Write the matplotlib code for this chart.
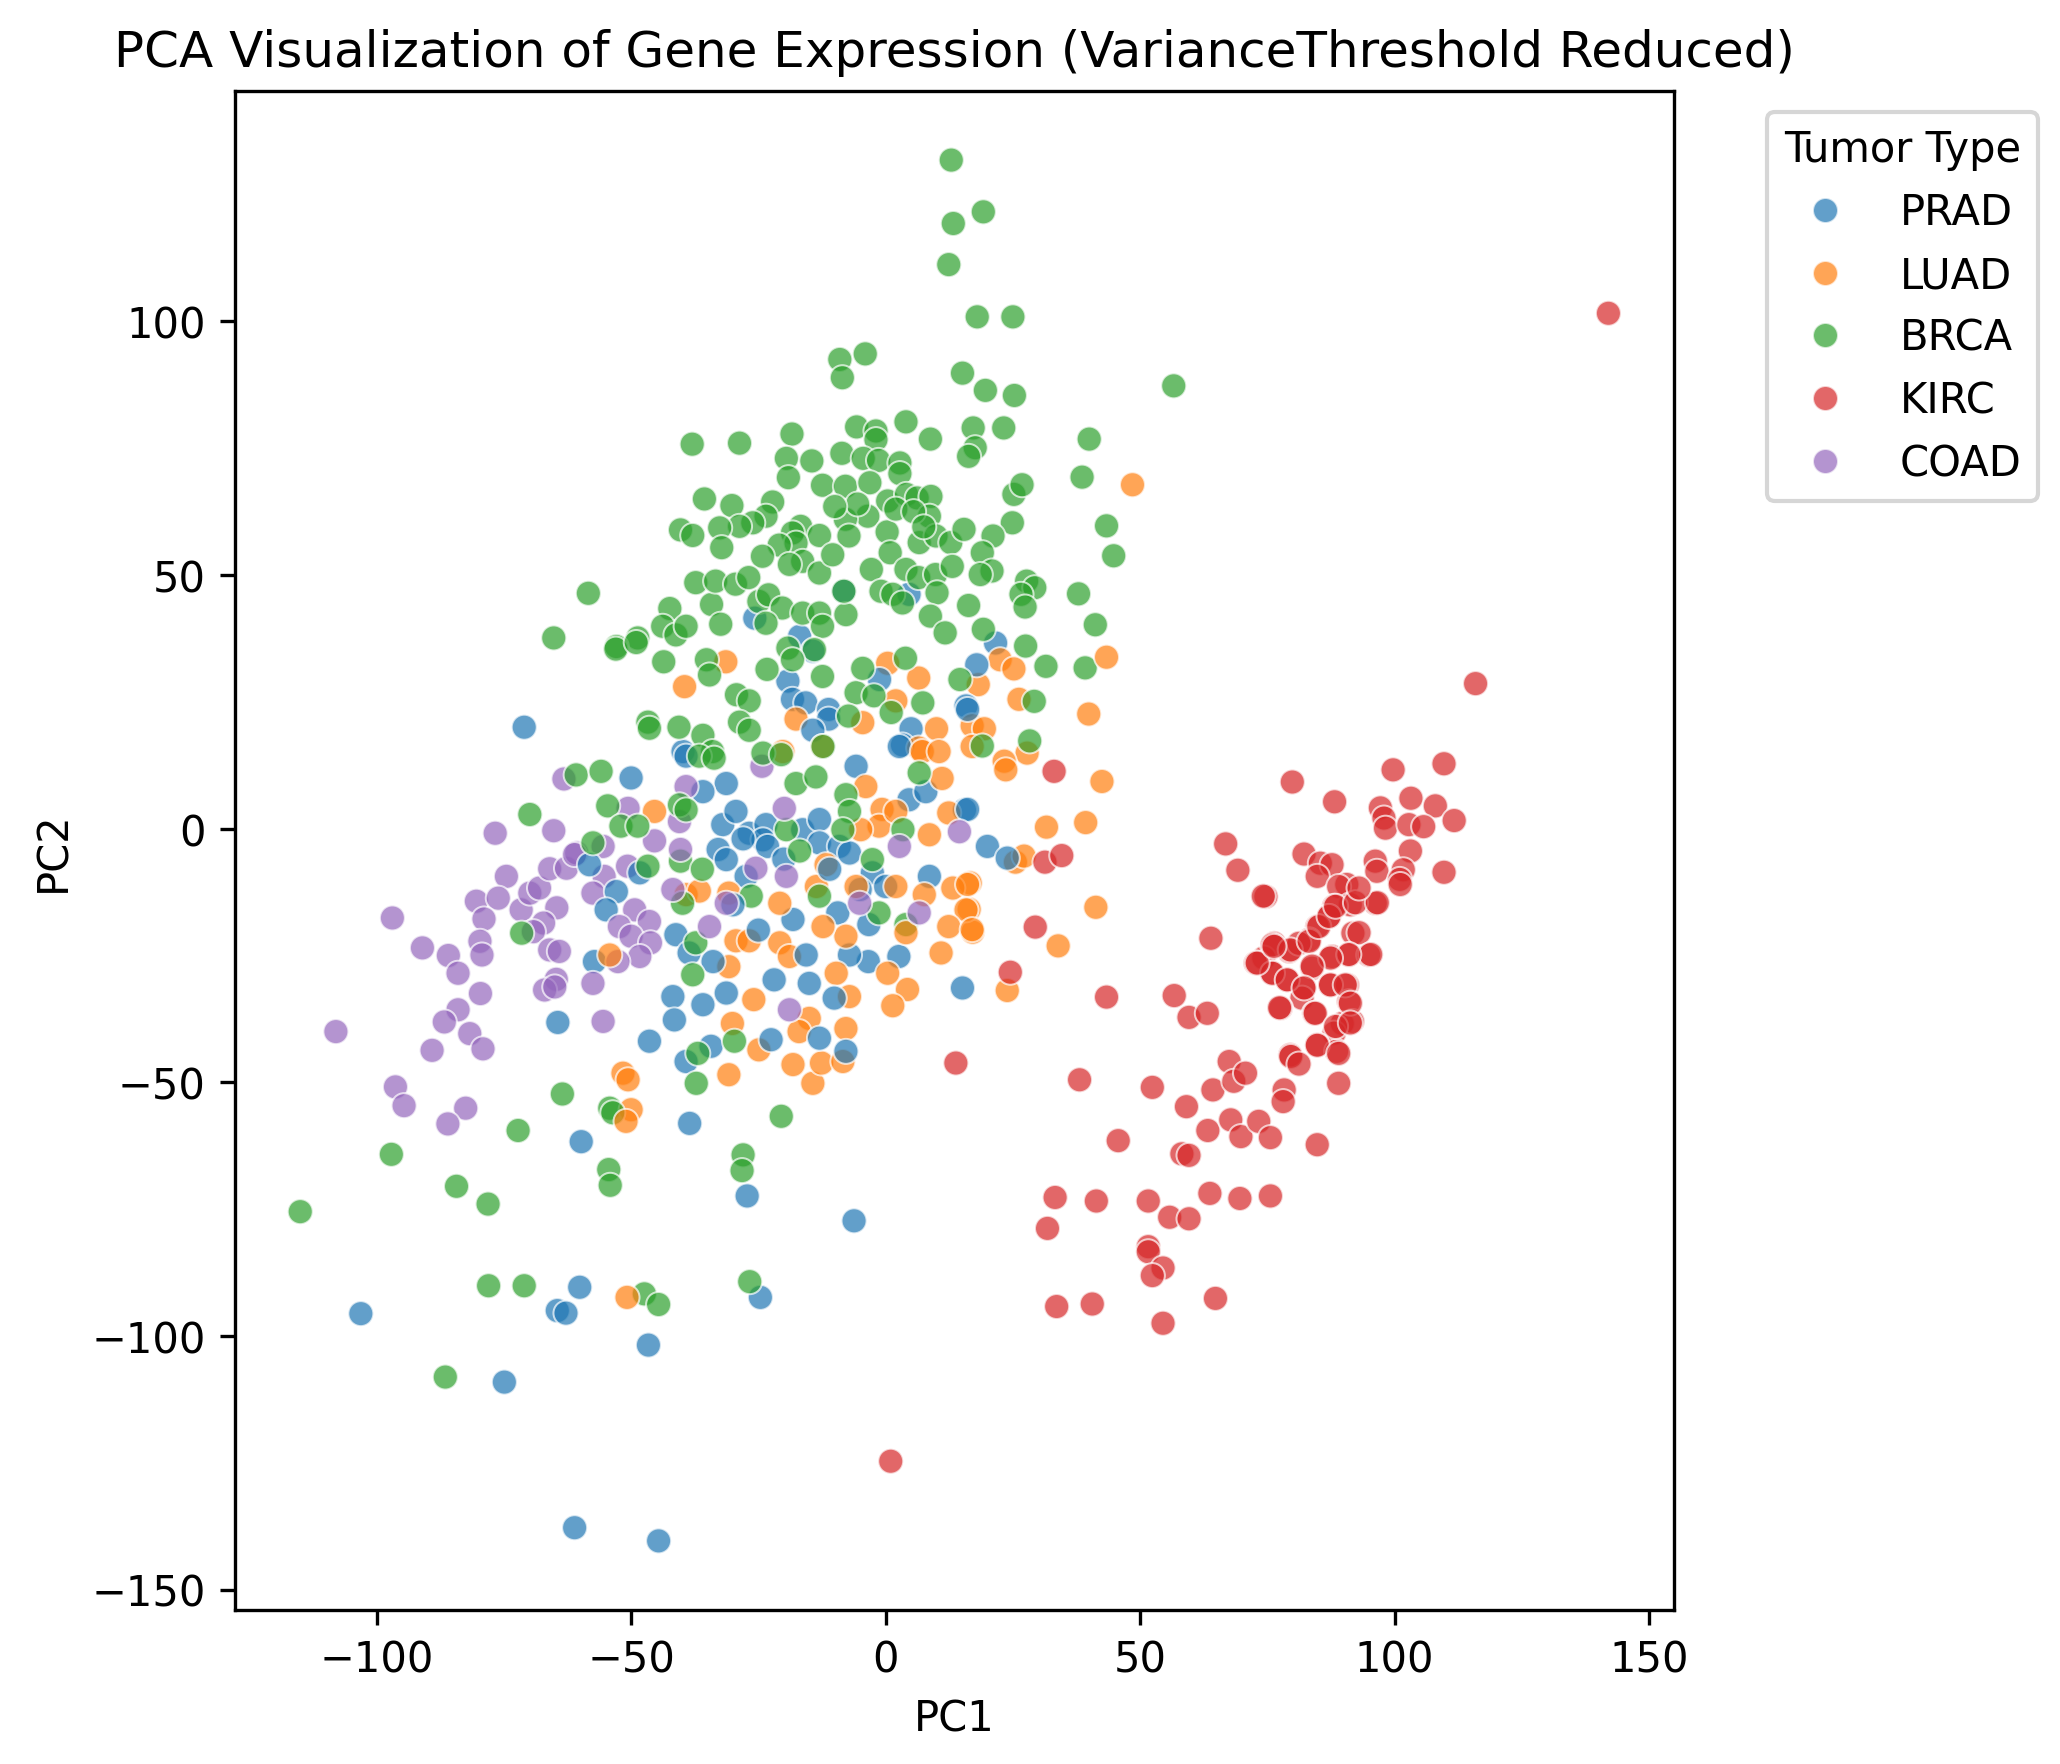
import numpy as np
import pandas as pd
import seaborn as sns
from matplotlib import pyplot as plt

# Coordinate PCA (PC1, PC2) per tipo di tumore
brca_pts = [
    (12.9, 131.8), (19.2, 121.6), (13.3, 119.3), (12.4, 111.2), (18.0, 100.9), (25.0, 100.9),
    (-9.0, 92.5), (-4.0, 93.6), (-8.5, 88.9), (15.1, 89.8), (19.6, 86.4), (25.3, 85.4), (56.6, 87.3),
    (40.0, 76.8), (38.6, 69.3), (43.4, 59.7), (44.8, 53.8), (37.9, 46.3), (41.2, 40.2), (39.2, 31.7),
    (31.5, 32.0), (27.5, 36.0), (-38.0, 75.8), (-28.7, 76.0), (-18.4, 77.8), (-19.5, 73.0),
    (-19.1, 69.2), (-14.5, 72.5), (-12.4, 67.7), (-5.7, 79.2), (-1.9, 78.4), (-1.9, 76.7), (4.0, 80.2),
    (8.8, 76.8), (-8.6, 74.0), (-4.4, 73.0), (-1.4, 72.6), (2.8, 72.1), (2.8, 70.0), (-7.9, 67.5),
    (-3.1, 68.2), (0.4, 64.6), (4.1, 65.9), (6.2, 65.2), (8.9, 65.5), (-3.5, 61.6), (-7.9, 61.0),
    (-7.2, 57.7), (0.3, 58.5), (6.6, 56.4), (8.6, 61.6), (9.9, 57.7), (12.8, 56.4), (15.4, 59.0),
    (17.2, 79.0), (17.6, 75.1), (16.3, 73.4), (23.2, 79.0), (25.2, 65.9), (24.9, 60.3), (21.1, 57.7),
    (19.0, 54.4), (20.9, 50.8), (18.6, 50.1), (26.8, 67.8), (27.7, 48.8), (29.3, 47.5), (26.6, 46.2),
    (27.4, 43.7), (28.3, 17.3), (29.2, 25.1), (19.0, 16.3), (-35.6, 65.0), (-30.2, 63.7),
    (-22.2, 64.4), (-23.5, 61.6), (-26.1, 60.3), (-28.7, 59.6), (-32.6, 59.3), (-40.3, 58.9),
    (-37.9, 57.8), (-32.2, 55.4), (-16.7, 59.6), (-18.3, 58.3), (-13.0, 57.8), (-17.6, 56.3),
    (-20.9, 55.9), (-24.2, 53.7), (-16.3, 52.7), (-18.9, 52.1), (-13.0, 50.4), (-10.4, 54.0),
    (0.9, 54.4), (-2.8, 51.1), (4.0, 51.1), (6.5, 49.5), (9.8, 50.1), (13.1, 51.7), (-0.9, 46.8),
    (1.4, 46.2), (3.3, 44.5), (10.1, 46.5), (8.8, 41.9), (11.7, 38.6), (16.3, 44.0), (19.2, 39.3),
    (2.0, 63.0), (5.5, 62.5), (7.5, 59.5), (-5.5, 64.0), (-10.0, 63.5),
    (-37.3, 48.5), (-34.2, 44.2), (-32.4, 40.3), (-33.4, 48.8), (-29.5, 48.2), (-26.9, 49.5),
    (-24.9, 44.8), (-23.0, 46.1), (-20.3, 43.5), (-16.3, 42.5), (-13.0, 42.5), (-12.4, 39.9),
    (-7.8, 42.2), (-8.2, 46.8), (-23.5, 40.5), (-42.4, 43.4), (-43.8, 39.9), (-41.2, 38.2),
    (-39.2, 39.9), (-48.7, 37.6), (-52.9, 35.9), (-43.6, 32.9), (-35.2, 33.3), (-34.6, 30.3),
    (-14.0, 35.3), (-19.2, 35.6), (-18.3, 33.3), (-23.3, 31.4), (-12.4, 30.0), (-5.8, 26.8),
    (-4.5, 31.6), (3.9, 33.6), (14.6, 29.4), (7.3, 24.8), (-2.3, 26.2), (-29.3, 26.4), (-26.8, 25.2),
    (-7.3, 22.2), (1.1, 22.9), (-46.7, 21.0), (-40.6, 20.0), (-35.9, 18.4), (-28.7, 21.0),
    (-26.8, 19.4), (-34.0, 15.2), (-58.4, 46.4), (-65.2, 37.6), (-53.0, 35.4), (-49.0, 36.7),
    (-60.8, 10.6), (-55.9, 11.3), (-54.6, 4.5), (-69.9, 2.8), (-46.4, 19.8),
    (-52.0, 0.5), (-48.7, 0.5), (-57.5, -2.8), (-46.7, -7.4), (-40.5, 4.7), (-39.2, 3.7),
    (-36.6, 14.3), (-33.7, 13.9), (-40.3, -6.4), (-36.0, -8.0), (-26.4, -13.3), (-39.9, -14.7),
    (-37.3, -22.5), (-37.9, -28.8), (-36.9, -44.3), (-37.2, -50.2), (-29.7, -41.9), (-20.5, -56.7),
    (-54.2, -55.1), (-63.5, -52.3), (-24.1, 14.9), (-20.5, 14.6), (-17.6, 8.9), (-13.7, 10.2),
    (-19.5, -0.2), (-16.9, -4.4), (-7.8, 6.7), (-7.1, 3.4), (-8.4, -0.2), (-13.0, -13.3),
    (-2.6, -6.1), (-1.3, -16.6), (3.4, -0.2), (6.6, 11.0), (4.0, -18.9), (-12.3, 16.2),
    (-71.5, -20.6), (-72.2, -59.5), (-97.1, -64.2), (-84.3, -70.5), (-78.1, -74.0), (-115.0, -75.5),
    (-86.5, -108.1), (-78.0, -90.1), (-71.0, -90.1), (-53.6, -56.0), (-54.4, -67.2), (-54.1, -70.3),
    (-47.4, -91.7), (-44.6, -93.8), (-26.7, -89.3), (-28.0, -64.3), (-28.2, -67.4),
]

prad_pts = [
    (21.6, 36.6), (-8.2, 46.8), (4.6, 46.2), (-25.7, 41.5), (-16.9, 37.9), (-14.3, 35.0),
    (-19.2, 29.1), (-1.2, 29.4), (17.9, 32.3), (15.8, 24.2), (-18.3, 25.5), (-15.7, 24.8),
    (-11.2, 23.5), (-11.2, 21.6), (5.0, 19.7), (-14.3, 19.4), (-39.8, 15.2), (3.3, 16.5),
    (-50.0, 10.0), (-39.2, 14.3), (-31.3, 8.9), (-35.9, 7.3), (-32.0, 0.8), (-29.4, 3.4),
    (-26.8, -0.9), (-23.5, 0.8), (-24.1, -2.2), (-32.9, -4.1), (-31.3, -6.1), (-27.4, -9.4),
    (-23.2, -3.5), (-16.3, -0.2), (-13.0, 1.8), (-13.0, -2.8), (-9.1, -3.5), (-7.1, -4.8),
    (-5.8, 12.3), (-2.6, -8.7), (0.0, -11.4), (4.6, 5.7), (7.9, 7.3), (15.5, 3.7), (8.6, -9.4),
    (2.7, 16.2), (-9.4, -16.6), (-18.2, -17.9), (-3.3, -18.9), (2.6, -25.2), (-3.4, -26.2),
    (-7.1, -24.9), (-15.6, -24.9), (-21.9, -29.8), (-31.3, -32.4), (-41.8, -33.1), (-35.9, -34.7),
    (-41.5, -37.7), (-46.4, -41.9), (-39.2, -45.9), (-34.3, -42.9), (-22.5, -41.6), (-13.0, -41.3),
    (-7.8, -43.9), (-10.1, -33.4), (-15.0, -30.5), (15.1, -31.4), (-38.5, -58.1), (-59.8, -61.7),
    (-52.9, -12.4), (-54.9, -16.0), (-57.2, -26.2), (-58.2, -7.1), (-48.3, -8.7), (-41.2, -20.9),
    (-38.6, -24.5), (-33.9, -26.2), (-64.4, -38.2), (16.1, 23.5), (16.1, 3.8), (20.0, -3.5),
    (23.9, -5.8), (-71.0, 20.0), (-28.0, -2.0), (-20.0, -6.0), (-11.0, -8.0), (-30.0, -15.0),
    (-25.0, -20.0), (-5.0, -12.0), (-103.1, -95.6), (-74.9, -109.1), (-60.1, -90.4),
    (-64.5, -95.0), (-62.8, -95.5), (-61.1, -137.8), (-44.6, -140.4), (-46.6, -101.8),
    (-24.6, -92.4), (-27.2, -72.4), (-6.2, -77.3),
]

luad_pts = [
    (-31.4, 32.9), (-39.5, 28.0), (0.4, 32.6), (6.5, 29.7), (18.2, 28.4), (22.5, 33.3), (25.2, 31.5),
    (26.2, 25.5), (2.0, 25.2), (-4.5, 20.9), (10.0, 19.7), (17.0, 20.3), (19.4, 19.7), (-17.6, 21.6),
    (-20.2, 15.2), (-12.4, 16.2), (6.5, 15.9), (17.0, 16.2), (48.5, 67.8), (43.4, 33.8), (39.9, 22.6),
    (27.8, 14.9), (23.3, 13.3), (23.6, 11.6), (42.5, 9.3), (25.5, -6.6), (27.2, -5.4), (31.6, 0.3),
    (39.3, 1.2), (16.6, -10.7), (16.4, -15.9), (17.1, -20.4), (41.3, -15.5), (33.9, -23.1),
    (23.9, -31.9), (-45.4, 3.4), (-39.2, -13.0), (-36.6, -12.3), (-30.8, -12.7), (-29.4, -22.1),
    (-26.8, -22.1), (-30.8, -27.2), (-20.8, -22.5), (-18.9, -25.2), (-20.8, -14.7), (-25.9, -33.7),
    (-30.1, -38.4), (-24.9, -43.6), (-30.8, -48.5), (-18.2, -46.5), (-14.3, -50.2), (-12.6, -46.2),
    (-8.4, -45.9), (-15.0, -37.4), (-17.0, -40.0), (-7.8, -39.4), (-9.7, -28.5), (-7.1, -33.1),
    (-11.7, -7.1), (-13.6, -11.4), (-7.8, -21.2), (-12.3, -19.3), (-3.9, 8.3), (-0.7, 3.8),
    (-1.3, 0.5), (-4.9, -0.2), (2.0, 3.4), (7.2, 15.2), (11.1, 9.9), (10.5, 15.2), (12.4, 3.1),
    (8.6, -1.2), (13.2, -11.7), (16.1, -11.0), (15.8, -16.0), (12.4, -19.3), (17.0, -19.9),
    (10.9, -24.5), (4.3, -31.7), (1.4, -34.9), (0.4, -28.5), (2.0, -11.4), (-5.8, -11.4),
    (7.6, -13.0), (4.0, -20.5), (-51.6, -48.2), (-50.6, -49.5), (-50.0, -55.4), (-51.0, -57.7),
    (-54.2, -24.9), (-50.8, -92.4),
]

kirc_pts = [
    (115.9, 28.6), (109.7, 12.8), (99.7, 11.6), (79.9, 9.2), (88.2, 5.3), (103.2, 6.0), (108.0, 4.5),
    (111.7, 1.6), (97.2, 4.1), (97.9, 2.1), (98.2, 0.1), (102.8, 0.8), (105.7, 0.4), (103.1, -4.4),
    (109.7, -8.6), (82.2, -5.0), (85.4, -6.8), (87.7, -7.1), (84.8, -9.4), (96.2, -6.4), (96.5, -8.4),
    (101.7, -8.1), (101.0, -10.0), (74.7, -13.4), (90.6, -11.0), (89.0, -11.4), (96.2, -14.7),
    (91.3, -15.0), (88.1, -15.3), (87.1, -17.3), (84.8, -19.3), (91.8, -20.6), (83.2, -21.9),
    (76.3, -22.6), (79.3, -24.2), (74.3, -25.5), (81.2, -22.6), (87.7, -25.2), (91.0, -24.9),
    (94.9, -24.9), (83.8, -27.5), (75.9, -28.5), (78.9, -29.8), (82.2, -31.4), (87.4, -30.8),
    (90.7, -30.8), (81.8, -33.4), (91.0, -34.1), (77.6, -35.4), (84.2, -36.4), (89.7, -38.4),
    (91.7, -38.0), (88.1, -40.3), (84.8, -42.6), (79.5, -44.6), (88.6, -43.9),
    (74.2, -13.3), (63.9, -21.6), (43.4, -33.2), (56.7, -32.9), (59.6, -37.2), (63.2, -36.4),
    (38.1, -49.5), (52.4, -51.0), (59.1, -54.8), (64.3, -51.5), (67.5, -45.9), (68.4, -49.8),
    (70.7, -48.2), (63.3, -59.5), (67.8, -57.4), (69.8, -60.7), (73.3, -57.7), (75.6, -60.9),
    (78.3, -51.5), (78.1, -53.8), (79.6, -44.9), (81.2, -46.4), (84.8, -42.7), (89.0, -44.3),
    (89.0, -50.2), (84.8, -62.3), (45.7, -61.5), (58.2, -64.1), (59.6, -64.4), (33.3, -72.7),
    (41.4, -73.4), (51.6, -73.4), (55.8, -76.6), (59.6, -76.9), (63.7, -71.9), (69.6, -72.9),
    (75.6, -72.4), (31.8, -78.8), (51.6, -82.4), (51.6, -83.4), (54.5, -86.6), (52.4, -88.1),
    (33.6, -94.2), (40.6, -93.7), (64.8, -92.6), (54.5, -97.5), (76.0, -22.9), (79.5, -23.9),
    (72.7, -26.5), (76.0, -28.5), (78.9, -29.8), (83.2, -22.2), (85.1, -19.3), (87.1, -17.3),
    (88.4, -15.3), (92.3, -14.6), (96.6, -14.6), (93.0, -11.7), (101.1, -11.0), (93.0, -20.5),
    (95.3, -24.8), (91.0, -24.8), (87.4, -25.5), (83.8, -27.1), (82.2, -31.4), (87.4, -30.8),
    (90.3, -30.8), (91.3, -34.4), (84.4, -36.4), (77.4, -35.3), (88.4, -39.0), (91.3, -38.3),
    (33.1, 11.3), (31.3, -6.6), (34.6, -5.3), (29.4, -19.4), (24.5, -28.3), (66.8, -3.0),
    (69.2, -8.2), (73.0, -26.5), (76.3, -23.2), (142.0, 101.6), (1.0, -124.7), (13.8, -46.2),
]

coad_pts = [
    (-76.7, -0.9), (-65.2, -0.4), (-74.5, -9.4), (-80.4, -14.3), (-76.1, -13.7), (-78.9, -17.8),
    (-71.6, -16.0), (-69.9, -12.7), (-68.0, -11.7), (-66.0, -7.9), (-62.7, -7.8), (-60.7, -4.8),
    (-64.6, -15.6), (-67.2, -18.6), (-69.2, -20.3), (-66.0, -23.9), (-64.1, -24.2), (-64.7, -29.7),
    (-67.0, -31.8), (-65.0, -31.2), (-96.9, -17.6), (-91.0, -23.5), (-85.9, -25.0), (-84.0, -28.5),
    (-79.7, -22.2), (-79.3, -24.9), (-79.6, -32.5), (-84.0, -35.7), (-86.7, -38.1), (-81.7, -40.4),
    (-79.1, -43.4), (-89.1, -43.7), (-108.0, -40.0), (-96.3, -50.9), (-94.6, -54.6), (-82.5, -55.1),
    (-86.0, -58.2), (-63.2, 9.8), (-24.3, 12.3), (-39.2, 8.3), (-50.6, 4.0), (-40.5, 1.4),
    (-45.4, -2.4), (-55.5, -3.5), (-61.1, -5.1), (-55.3, -9.4), (-50.7, -7.4), (-57.5, -12.7),
    (-49.3, -16.0), (-46.4, -18.3), (-52.3, -19.3), (-50.0, -21.2), (-46.2, -22.5), (-48.3, -25.2),
    (-52.6, -26.2), (-57.5, -30.5), (-55.5, -38.0), (-40.3, -4.1), (-41.8, -12.0), (-34.6, -19.3),
    (-31.3, -14.7), (-25.5, -7.8), (-19.9, 4.0), (-19.5, -9.4), (-5.1, -14.7), (2.7, -3.5),
    (14.5, -0.6), (6.6, -16.6), (-18.9, -35.7),
]

tumor_order = ["PRAD", "LUAD", "BRCA", "KIRC", "COAD"]
groups = {"PRAD": prad_pts, "LUAD": luad_pts, "BRCA": brca_pts, "KIRC": kirc_pts, "COAD": coad_pts}


def main() -> None:

    # Tabella unica, classi mescolate in modo regolare (come nel dataset originale)
    frames = []
    for name in tumor_order:
        arr = np.array(groups[name])
        f = pd.DataFrame({"PC1": arr[:, 0], "PC2": arr[:, 1], "Tumor Type": name})
        f["rank"] = np.arange(len(f)) / len(f)
        frames.append(f)
    df = pd.concat(frames).sort_values("rank", kind="stable")

    fig = plt.figure(figsize=(6.867, 5.883), dpi=300)
    ax = fig.add_axes([0.114, 0.0873, 0.6985, 0.8606])

    sns.scatterplot(data=df, x="PC1", y="PC2", hue="Tumor Type", hue_order=tumor_order,
                    palette="tab10", alpha=0.7, ax=ax)

    ax.set_title("PCA Visualization of Gene Expression (VarianceThreshold Reduced)")
    ax.set_xlabel("PC1")
    ax.set_ylabel("PC2")
    ax.legend(title="Tumor Type", bbox_to_anchor=(1.05, 1), loc="upper left")

    plt.savefig("out.png", dpi=300)

    return


if __name__ == "__main__":
    main()
